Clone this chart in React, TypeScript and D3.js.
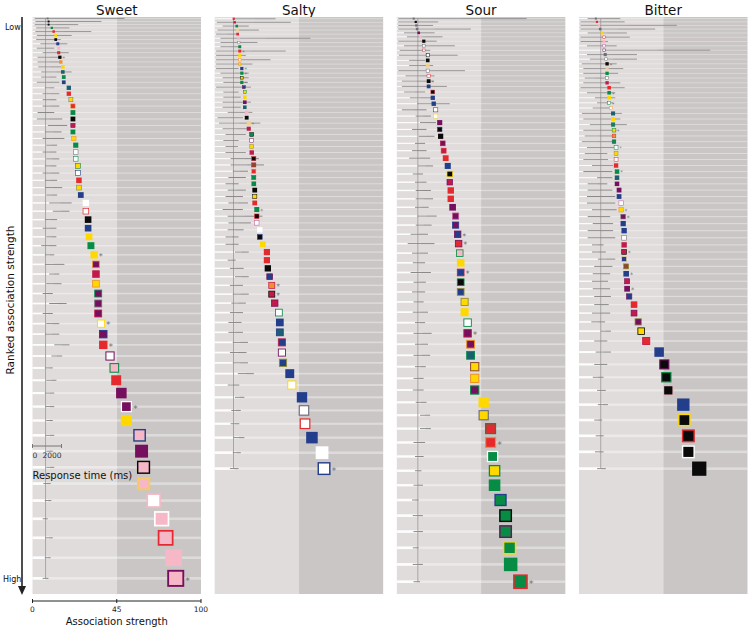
import React from 'react';
import * as d3 from 'd3';

const tastes = ['Sweet', 'Salty', 'Sour', 'Bitter'];
const axisTicks = [0, 45, 100];
const divider = 45;
const scaleBarTicks = [0, 2000];

// ---- Sweet ----
const sweetStrength = [8.1, 8.6, 8.6, 10.3, 11.3, 12.4, 12.4, 13.5, 14, 14, 14.6, 15.1, 16.2, 16.2, 16.7, 16.7, 19.4, 19.4, 20.5, 21.6, 21.6, 21.6, 21.6, 21.6, 22.1, 23.1, 23.1, 23.1, 24.3, 24.3, 24.8, 24.8, 25.8, 28.5, 28.5, 29.7, 29.7, 30.2, 31.2, 32.9, 33.9, 33.9, 33.9, 35.1, 35.1, 35.1, 36.6, 37.8, 37.8, 41.4, 43.7, 44.7, 48, 51.3, 51.3, 59.9, 61.2, 62.5, 62.5, 69.1, 74.3, 76.9, 82.2, 83.5];
const sweetFill = 'SBBGRYBNKRBOYTGNTRYRGBCGYGWWYWRYNWWBNYGYPCYPPPWPRWKRPPYKPKKWKKKK'.split('');
const sweetStroke = 'SBBGRYBNKRBOYTGNTRSOGBPGOGSGGNRLNWRBNYGYOCOGSCYNRPGRPWYNPBYKWRKP'.split('');
const sweetStars = [11, 40, 47, 49, 54, 64];
const sweetRtLo = [150, 200, 150, 250, 200, 300, 250, 550, 300, 700, 350, 350, 400, 600, 600, 300, 850, 700, 700, 700, 350, 300, 1050, 850, 700, 950, 700, 950, 850, 700, 850, 850, 950, 1150, 1400, 850, 700, 950, 600, 850, 850, 1150, 950, 700, 1150, 700, 950, 850, 1500, 1300, 850, 950, 850, 900, 950, 900, 950, 950, 750, 850, 700, 900, 850, 700];
const sweetRtHi = [6350, 4750, 3150, 2550, 4050, 2700, 1950, 2400, 1500, 2500, 2050, 2000, 2050, 2700, 1650, 1850, 1500, 1850, 1650, 1850, 1500, 2050, 2400, 2000, 2200, 1700, 1650, 1850, 1650, 1850, 1700, 2050, 1700, 2700, 2550, 1700, 1650, 1650, 1650, 1500, 2200, 1850, 2000, 1400, 2350, 1400, 1850, 1850, 2550, 2050, 1400, 1650, 1500, 1500, 1400, 1500, 1400, 1500, 1250, 1300, 1050, 1400, 1250, 1100];

// ---- Salty ----
const saltyStrength = [10.2, 10.7, 11.8, 12.3, 12.3, 12.9, 12.9, 13.4, 13.4, 13.4, 13.4, 13.4, 14.5, 14.5, 14.5, 14.5, 15.6, 16.1, 16.1, 16.1, 16.1, 17.1, 17.1, 18.2, 18.2, 19.8, 19.8, 19.8, 19.8, 20.9, 20.9, 20.9, 20.9, 20.9, 21.4, 21.4, 21.4, 22.5, 22.5, 22.5, 24.1, 24.1, 25.7, 27.9, 27.9, 28.4, 29.4, 30.5, 30.5, 32.1, 34.3, 34.8, 34.8, 35.9, 35.9, 36.5, 40.1, 41.2, 47, 48.3, 49, 53.5, 60.1, 61.4];
const saltyFill = 'RCGERKWGRYWYNGYGNYYPTKBECGWYCBURGGBYRGBWWBYRRBNOCCWNTNWNNWNWWNWW'.split('');
const saltyStroke = 'RCGERKMGRYOONGBGPGYPTKBECBPLCRCOUGBBRGRMWNYRRBPCBPGNNCPLNYNSRNWN'.split('');
const saltyStars = [9, 13, 14, 16, 24, 38, 48, 49, 64];
const saltyRtLo = [1300, 150, 550, 200, 100, 400, 400, 400, 100, 100, 100, 100, 100, 400, 550, 600, 100, 600, 600, 550, 550, 900, 200, 300, 550, 750, 600, 750, 750, 1100, 1100, 1250, 950, 750, 900, 750, 950, 550, 900, 950, 900, 750, 750, 1400, 900, 1050, 1400, 1050, 1250, 1150, 1050, 950, 950, 1250, 1050, 1250, 1600, 900, 1400, 1150, 1100, 1300, 1250, 1050];
const saltyRtHi = [4200, 5250, 2350, 3050, 1650, 6600, 2950, 1800, 4900, 2150, 3850, 2600, 1650, 2350, 2350, 2300, 2500, 1650, 1800, 2500, 1800, 2600, 1950, 3150, 2500, 2150, 1650, 1600, 2150, 3050, 3400, 2300, 2150, 1650, 2150, 1950, 2300, 1950, 3300, 2500, 2000, 1650, 1650, 2350, 1450, 2000, 2350, 1950, 2350, 2150, 1950, 1850, 1950, 2300, 2200, 2300, 2700, 1700, 2050, 1800, 1700, 2050, 1800, 1650];

// ---- Sour ----
const sourStrength = [9, 10.1, 10.4, 10.8, 11.7, 12.6, 14.4, 14.4, 14.4, 16.5, 16.5, 16.5, 16.5, 17, 17, 17, 19.2, 19.2, 19.7, 20.8, 20.8, 22.9, 22.9, 23.4, 24.5, 25, 26.1, 27.2, 28.3, 28.3, 28.8, 28.8, 29.8, 31.4, 31.4, 32.5, 33, 33.6, 34.1, 34.1, 34.1, 34.1, 36.2, 36.2, 37.8, 37.8, 39.4, 39.4, 41.6, 41.6, 41.6, 46.7, 46.7, 51.2, 51.2, 52.5, 53.8, 53.8, 57.7, 61, 61, 63.6, 64.3, 70.7];
const sourFill = 'SBSSPKBWWWBEWWBNBNNWWPBBPCRNBCRRPPPNRKYNBNYYWPPTYYPYYRRGYGGGGGGG'.split('');
const sourStroke = 'SBSSPKBSRBBESRBNRNNPYPNBCRRNYPRRPMNPPGYCGLLYGCOGUOGYSGOWGGNBPYGR'.split('');
const sourStars = [15, 36, 37, 40, 46, 55, 64];
const sourRtLo = [100, 100, 100, 100, 500, 700, 100, 500, 200, 150, 850, 850, 100, 600, 350, 350, 500, 900, 1400, 350, 1300, 1600, 1050, 1500, 1250, 1050, 850, 1450, 1100, 1250, 1300, 1300, 1250, 1400, 1300, 950, 750, 1050, 1100, 950, 1150, 1050, 1150, 1100, 1250, 1150, 1250, 1150, 1250, 1150, 1100, 1300, 1600, 1600, 1150, 1250, 1250, 1150, 1050, 1100, 1150, 1100, 1100, 1150];
const sourRtHi = [8950, 2850, 2500, 5100, 2600, 3150, 2750, 4000, 2300, 4200, 1950, 2500, 4700, 2600, 2550, 3450, 1950, 2350, 3650, 2050, 2350, 2700, 2050, 2600, 1950, 2050, 2300, 2500, 1800, 2050, 2350, 2500, 2200, 2750, 2400, 2150, 2600, 2150, 1950, 2350, 2000, 1950, 1850, 2150, 1950, 2400, 2150, 2300, 2000, 1850, 1850, 2050, 2300, 2350, 1950, 1850, 1700, 1800, 1500, 1800, 1800, 1500, 1800, 1600];

// ---- Bitter ----
const bitterStrength = [9, 9.6, 10.7, 11.3, 12.3, 13.4, 13.4, 13.4, 13.4, 14, 14.5, 15, 15, 15, 15, 15, 16.1, 16.1, 16.1, 16.1, 17.1, 18.2, 18.2, 18.2, 18.7, 18.7, 18.7, 19.8, 19.8, 19.8, 19.8, 20.3, 20.3, 20.3, 21.4, 21.4, 22.5, 22.5, 23.6, 23.6, 24.1, 24.1, 24.1, 24.1, 24.1, 25.2, 25.2, 25.7, 25.7, 26.8, 29.4, 29.4, 31.6, 33.2, 35.9, 42.8, 45.7, 47, 48.3, 58.1, 58.8, 61.4, 61.4, 68.5];
const bitterFill = 'SRKSYWKWWSWBEGWCRGYWWTYGYOGWYWRGTPPNWYPNNWCCNUNCPNRCPYRNBBBNBBBB'.split('');
const bitterStroke = 'SRKSYRKMPSSBEGSCRGYGOTYTGRTGLRRGTPPNMOSNNSCBELNPPPRPLBCNPGKNYRWB'.split('');
const bitterStars = [12, 18, 20, 25, 28, 32, 38, 39, 44, 47, 49];
const bitterRtLo = [600, 100, 100, 100, 600, 100, 100, 550, 1800, 550, 750, 200, 300, 300, 400, 300, 100, 550, 1100, 1250, 950, 200, 300, 750, 300, 400, 200, 550, 400, 300, 900, 300, 1250, 600, 600, 550, 550, 900, 600, 950, 600, 600, 900, 900, 1300, 1050, 950, 900, 950, 1050, 1050, 900, 850, 1500, 1050, 1150, 1050, 950, 1250, 1300, 1050, 1150, 1100, 1250];
const bitterRtHi = [2850, 3150, 6750, 5250, 3300, 3500, 2000, 2600, 9050, 4000, 4000, 2600, 3050, 2700, 1800, 2850, 3150, 2500, 2500, 2350, 2150, 2950, 2850, 3300, 2600, 2350, 2300, 2500, 1950, 2000, 2350, 2300, 2300, 1950, 2300, 2500, 2500, 2600, 2150, 2350, 2350, 2500, 1700, 1850, 2500, 2300, 2150, 2000, 2150, 2200, 2050, 2150, 1800, 2200, 1950, 2200, 1950, 1700, 1850, 2000, 1600, 1700, 1700, 1850];

// mean response time per taste (vertical reference line)
const rtReference = [900, 1300, 1450, 1500];

const palette: Record<string, string> = {
  R: '#e42a2f', C: '#c21a4a', P: '#76105e', N: '#233e8b', T: '#1c5f73',
  G: '#078c45', Y: '#ffd800', O: '#f0902a', K: '#f6b8c6', W: '#ffffff',
  B: '#0a0a0a', S: '#6e6e78', L: '#8f8a3a', U: '#8c4a2c', M: '#c0609a', E: '#f2d08e',
};

const panelData = [
  { s: sweetStrength, fill: sweetFill, stroke: sweetStroke, stars: sweetStars, lo: sweetRtLo, hi: sweetRtHi },
  { s: saltyStrength, fill: saltyFill, stroke: saltyStroke, stars: saltyStars, lo: saltyRtLo, hi: saltyRtHi },
  { s: sourStrength, fill: sourFill, stroke: sourStroke, stars: sourStars, lo: sourRtLo, hi: sourRtHi },
  { s: bitterStrength, fill: bitterFill, stroke: bitterStroke, stars: bitterStars, lo: bitterRtLo, hi: bitterRtHi },
];

const FONT = '"DejaVu Sans", Verdana, sans-serif';

export default function App() {
  const W = 750, H = 631;
  const top = 17, bottom = 594;
  const panelX = d3.scaleBand<string>().domain(tastes).range([32.5, 747.5]).paddingInner(0.075);
  const bw = panelX.bandwidth();
  const rowH = d3.scaleLinear().domain([0, 45, 100]).range([0.85, 12.55, 24.25]);
  const sizeS = d3.scaleLinear().domain([0, 45, 100]).range([0, 10, 20]);
  const rtS = d3.scaleLinear().domain([0, 2000]).range([0, 29]);

  const panels = tastes.map((name, pi) => {
    const d = panelData[pi];
    const left = panelX(name) as number;
    const xs = d3.scaleLinear().domain([0, divider, 100]).range([left, left + bw / 2, left + bw]);
    let acc = top;
    const rows = d.s.map((v, i) => {
      const h = rowH(v);
      const cy = acc + h / 2;
      acc += h;
      return {
        v, h, cy,
        size: sizeS(v),
        fill: palette[d.fill[i]],
        stroke: palette[d.stroke[i]],
        hasStroke: d.stroke[i] !== d.fill[i],
        star: d.stars.includes(i + 1),
        lo: d.lo[i], hi: d.hi[i],
      };
    });
    return { name, left, xs, rows, ref: rtReference[pi] };
  });

  const sweet = panels[0];

  return (
    <svg width={W} height={H} style={{ position: 'absolute', left: 0, top: 0, background: '#fff' }} fontFamily={FONT}>
      {panels.map((p) => (
        <g key={p.name}>
          <text x={p.xs(divider)} y={15} textAnchor="middle" fontSize={13.5} fill="#111">{p.name}</text>
          <rect x={p.xs(0)} y={top} width={p.xs(divider) - p.xs(0)} height={bottom - top} fill="#e0dcdb" />
          <rect x={p.xs(divider)} y={top} width={p.xs(100) - p.xs(divider)} height={bottom - top} fill="#cac6c6" />
          {p.rows.map((r, i) => {
            const st = Math.max(0.8, Math.min(2.6, r.h * 0.16));
            return (
              <g key={'s' + i}>
                <rect x={p.xs(0)} y={r.cy - st / 2} width={bw} height={st} fill="#fff" opacity={0.38} />
                <rect x={p.xs(0)} y={r.cy - st / 2} width={rtS((r.lo + r.hi) / 2)} height={st} fill="#fff" opacity={0.9} />
              </g>
            );
          })}
          <line x1={p.left + rtS(p.ref)} x2={p.left + rtS(p.ref)} y1={p.rows[0].cy} y2={p.rows[p.rows.length - 1].cy} stroke="#a9a5a5" strokeWidth={1} />
          {p.rows.map((r, i) => (
            <line key={'rt' + i} x1={p.left + rtS(r.lo)} x2={p.left + rtS(r.hi)} y1={r.cy} y2={r.cy} stroke="#8a8888" strokeWidth={r.h > 6 ? 1 : 0.85} />
          ))}
          {p.rows.map((r, i) => {
            const sw = r.hasStroke ? Math.max(0.5, r.size * 0.11) : 0;
            const inner = r.size - sw;
            const cx = p.xs(r.v);
            const fs = Math.max(5, Math.min(9.5, r.h * 0.85));
            return (
              <g key={'m' + i}>
                <rect x={cx - inner / 2} y={r.cy - inner / 2} width={inner} height={inner}
                  fill={r.fill} stroke={r.hasStroke ? r.stroke : 'none'} strokeWidth={sw} />
                {r.star && (
                  <text x={cx + r.size / 2 + 1} y={r.cy + fs * 0.55} fontSize={fs} fill="#707070">*</text>
                )}
              </g>
            );
          })}
        </g>
      ))}

      {/* Ranked axis arrow */}
      <line x1={22} x2={22} y1={top} y2={588} stroke="#222" strokeWidth={1.6} />
      <path d={`M18,586 L26,586 L22,595 Z`} fill="#222" />
      <text x={5} y={30} fontSize={8} fill="#111">Low</text>
      <text x={3} y={582} fontSize={8} fill="#111">High</text>
      <text transform={`translate(14,300) rotate(-90)`} textAnchor="middle" fontSize={10.5} fill="#111">Ranked association strength</text>

      {/* Response-time scale bar */}
      <g>
        <line x1={sweet.left + rtS(scaleBarTicks[0])} x2={sweet.left + rtS(scaleBarTicks[1])} y1={446} y2={446} stroke="#777" strokeWidth={1} />
        {scaleBarTicks.map((t) => (
          <line key={t} x1={sweet.left + rtS(t)} x2={sweet.left + rtS(t)} y1={444} y2={448} stroke="#777" strokeWidth={1} />
        ))}
        <text x={sweet.left + rtS(0)} y={458} fontSize={7.5} fill="#333">0</text>
        <text x={sweet.left + rtS(2000)} y={458} fontSize={7.5} fill="#333" textAnchor="end">2000</text>
        <text x={sweet.left} y={479} fontSize={10} fill="#111">Response time (ms)</text>
      </g>

      {/* Association strength axis */}
      <g>
        <line x1={sweet.xs(0)} x2={sweet.xs(100)} y1={601} y2={601} stroke="#222" strokeWidth={1} />
        {axisTicks.map((t) => (
          <g key={t}>
            <line x1={sweet.xs(t)} x2={sweet.xs(t)} y1={599} y2={603} stroke="#222" strokeWidth={1} />
            <text x={sweet.xs(t)} y={612} fontSize={7.5} textAnchor="middle" fill="#222">{t}</text>
          </g>
        ))}
        <text x={sweet.xs(divider)} y={625} fontSize={10} textAnchor="middle" fill="#111">Association strength</text>
      </g>
    </svg>
  );
}
